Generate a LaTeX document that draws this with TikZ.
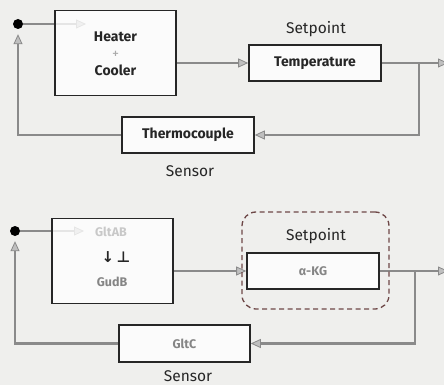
\documentclass[tikz,border=0pt]{standalone}
\usepackage{fontspec}
\setmainfont{Fira Sans}
\newfontfamily\symfont{DejaVu Sans}
\usetikzlibrary{arrows.meta, positioning}
\definecolor{paper}{HTML}{EFEFED}
\definecolor{wire}{HTML}{8A8A8A}
\definecolor{ink}{HTML}{262626}
\definecolor{inkfaint}{HTML}{858585}
\definecolor{frame}{HTML}{6E4848}
\pgfdeclarelayer{paperlayer}
\pgfdeclarelayer{wirelayer}
\pgfsetlayers{paperlayer,wirelayer,main}

\begin{document}
\begin{tikzpicture}[x=1pt, y=-1pt,
  blk/.style={draw=ink, line width=1.6pt, fill=white, fill opacity=0.78, text opacity=1,
              inner sep=0pt, align=center},
  wide/.style={blk, minimum width=121pt, minimum height=85pt},
  slim/.style={blk, minimum width=132pt, minimum height=36pt},
  arr/.style={-{Triangle[length=10pt, width=9pt, fill=wire!55, line width=0.8pt]},
              line width=2.6pt, color=wire},
  lbl/.style={font=\fontsize{15.5}{17}\selectfont, text=ink, inner sep=1pt},
  tag/.style={font=\fontsize{14}{16}\selectfont\bfseries, text=ink},
  dim/.style={font=\fontsize{12.5}{14}\selectfont\bfseries, text=inkfaint},
  junc/.style={circle, fill=black, minimum size=10pt, inner sep=0pt}
]
\begin{pgfonlayer}{paperlayer}
  \fill[paper] (0,0) rectangle (444,385);
\end{pgfonlayer}
\useasboundingbox (0,0) rectangle (444,385);

% upper loop
\node[junc] (dotA) at (18,24) {};
\node[wide, tag] (hc) at (115.5,53) {\\[-4pt]Heater\\[1pt]{\color{inkfaint!70}\mdseries +}\\[1pt]Cooler};
\node[slim, tag] (temp) at (315,63) {Temperature};
\node[slim, tag] (thermo) at (188,135) {Thermocouple};
\node[lbl] (setA) at (316,29) {Setpoint};
\node[lbl] (sensA) at (190,171) {Sensor};
\coordinate (inA) at (86,24);
\coordinate (brA) at (419,63);
\coordinate (outA) at (448,63);

% lower loop
\node[junc] (dotB) at (15,231) {};
\node[wide, minimum height=85pt] (gud) at (112.5,261) {};
\node[dim, text=inkfaint!45] (gltab) at (111,232) {GltAB};
\node[font=\symfont\fontsize{15}{17}\selectfont\bfseries, text=ink] (regs) at (116,257) {↓\,⊥};
\node[dim] (gudb) at (112,282) {GudB};
\node[draw=frame, line width=1.3pt, dash pattern=on 5pt off 3.5pt, rounded corners=14pt,
      minimum width=147pt, minimum height=97pt] (frm) at (315.5,260.5) {};
\node[slim, dim] (akg) at (313,271) {α-KG};
\node[slim, dim, minimum width=131pt, minimum height=37pt] (gltc) at (184.5,343.5) {GltC};
\node[lbl] (setB) at (316,236) {Setpoint};
\node[lbl] (sensB) at (188,376) {Sensor};
\coordinate (inB) at (84,231);
\coordinate (brB) at (415,271);
\coordinate (outB) at (448,271);

\begin{pgfonlayer}{wirelayer}
  \draw[arr] (dotA) -- (inA);
  \draw[arr] (hc.east |- temp.west) -- (temp.west);
  \draw[arr] (temp.east) -- (outA);
  \draw[arr] (brA) |- (thermo.east);
  \draw[arr] (thermo.west) -| ([yshift=-5pt]dotA.south);

  \draw[arr] (dotB) -- (inB);
  \draw[arr] (gud.east |- akg.west) -- (akg.west);
  \draw[arr] (akg.east) -- (outB);
  \draw[arr] (brB) |- (gltc.east);
  \draw[arr] (gltc.west) -| ([yshift=-5pt]dotB.south);
\end{pgfonlayer}
\end{tikzpicture}
\end{document}
